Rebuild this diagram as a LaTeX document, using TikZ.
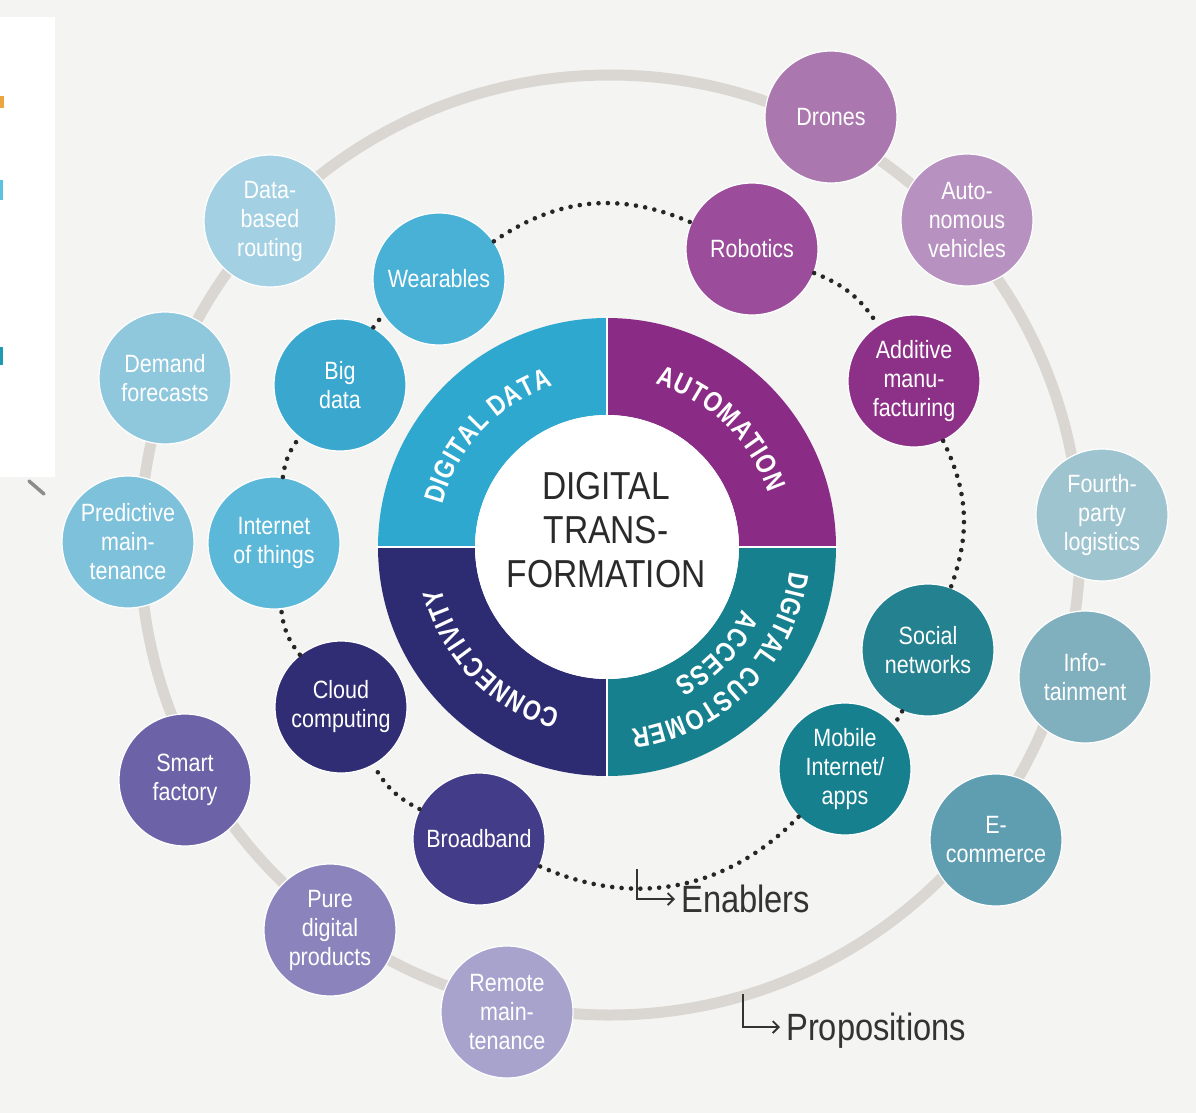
\documentclass[tikz,border=0pt]{standalone}
\usepackage{fontspec}
\setmainfont[FakeStretch=0.86]{Liberation Sans}
\newfontfamily\ringfont[FakeStretch=0.82]{Liberation Sans}
\usetikzlibrary{arrows.meta}
\definecolor{bgc}{HTML}{F4F4F3}
\definecolor{ringc}{HTML}{DAD6D2}
\definecolor{dotc}{HTML}{262626}
\definecolor{labc}{HTML}{333333}
\definecolor{coretxt}{HTML}{2A2A2A}
\definecolor{cdd}{HTML}{2FA8CF}
\definecolor{cau}{HTML}{8A2B86}
\definecolor{cca}{HTML}{17808E}
\definecolor{cco}{HTML}{2D2C73}
% enablers
\definecolor{ewear}{HTML}{4AB1D6}
\definecolor{ebig}{HTML}{3AA7CF}
\definecolor{eiot}{HTML}{5BB8D8}
\definecolor{ecloud}{HTML}{302D74}
\definecolor{ebroad}{HTML}{433C89}
\definecolor{emob}{HTML}{17808F}
\definecolor{esoc}{HTML}{24818F}
\definecolor{eadd}{HTML}{8D3188}
\definecolor{erob}{HTML}{9B4D9B}
% propositions
\definecolor{pdata}{HTML}{A3D0E2}
\definecolor{pdem}{HTML}{8FC7DD}
\definecolor{ppred}{HTML}{7DC1DB}
\definecolor{psmart}{HTML}{6C62A7}
\definecolor{ppure}{HTML}{8A83BC}
\definecolor{prem}{HTML}{A7A3CD}
\definecolor{pecom}{HTML}{5F9EB1}
\definecolor{pinfo}{HTML}{80AFBE}
\definecolor{pfourth}{HTML}{9EC4D0}
\definecolor{pauto}{HTML}{B791C0}
\definecolor{pdrone}{HTML}{AA78AE}
% fragments
\definecolor{fragor}{HTML}{EBA63F}
\definecolor{fragcy}{HTML}{5BC3E0}
\definecolor{fragtl}{HTML}{1E9AB2}
\definecolor{fraggr}{HTML}{8C8C8C}
\newcommand\ringlbl{\ringfont\bfseries\fontsize{28}{28}\selectfont}
\def\rwem{22.96}% 28pt font, 0.82 stretch
\def\rwsp{0.8}% extra letter spacing
% #1 name prefix, #2 centre angle, #3 baseline radius, #4 letter/width(em)/gap(em) list
\newcommand\ringword[4]{%
  \xdef\rwtotal{0}%
  \foreach \ch/\rww/\rwg in {#4}{%
    \pgfmathsetmacro\rwtmp{\rwtotal+(\rww+\rwg)*\rwem+\rwsp}%
    \xdef\rwtotal{\rwtmp}%
  }%
  \pgfmathsetmacro\rwstart{#2+deg(\rwtotal/(2*#3))}%
  \xdef\rwang{\rwstart}%
  \foreach \ch/\rww/\rwg [count=\k] in {#4}{%
    \pgfmathsetmacro\rwmid{\rwang-deg((\rww*\rwem+\rwsp)/(2*#3))}%
    \pgfmathsetmacro\rwnext{\rwang-deg(((\rww+\rwg)*\rwem+\rwsp)/#3)}%
    \node[rotate=\rwmid-90, anchor=base, inner sep=0pt, text=white, font=\ringlbl]
      (#1\k) at ([shift={(\rwmid:#3)}]cc) {\ch};
    \xdef\rwang{\rwnext}%
  }%
}
\begin{document}
\begin{tikzpicture}[x=1pt,y=1pt,
  bub/.style={circle, minimum size=132pt, inner sep=0pt, draw=white, line width=1.2pt,
    text=white, align=center, font=\fontsize{25}{29}\selectfont},
  dotline/.style={draw=dotc, line width=4.6pt, line cap=round, dash pattern=on 0pt off 9.4pt},
  labtext/.style={font=\fontsize{38}{40}\selectfont, text=labc, inner ysep=0pt, inner xsep=6pt},
  arr/.style={draw=labc, line width=1.8pt, -{Straight Barb[length=6pt,width=12pt]}},
  coretext/.style={align=center, text=coretxt, inner sep=0pt, font=\fontsize{39}{44}\selectfont}
]
\useasboundingbox (0,0) rectangle (1196,-1113);
\fill[bgc] (0,0) rectangle (1196,-1113);
% cropped fragment at left
\fill[white] (0,-17) rectangle (55,-477);
\fill[fragor] (0,-96) rectangle (4,-108);
\fill[fragcy] (0,-180) rectangle (2.5,-200);
\fill[fragtl] (0,-347) rectangle (3,-365);
\draw[fraggr, line width=3.5pt, line cap=round] (29,-481) -- (44,-494);

% outer propositions ring
\draw[ringc, line width=11pt] (610,-545) circle[radius=470];

% core ring
\coordinate (cc) at (607,-547);
\fill[cdd] ([shift={(90:229)}]cc) arc[start angle=90,end angle=180,radius=229]
  -- ([shift={(180:132)}]cc) arc[start angle=180,end angle=90,radius=132] -- cycle;
\fill[cau] ([shift={(0:229)}]cc) arc[start angle=0,end angle=90,radius=229]
  -- ([shift={(90:132)}]cc) arc[start angle=90,end angle=0,radius=132] -- cycle;
\fill[cco] ([shift={(180:229)}]cc) arc[start angle=180,end angle=270,radius=229]
  -- ([shift={(270:132)}]cc) arc[start angle=270,end angle=180,radius=132] -- cycle;
\fill[cca] ([shift={(270:229)}]cc) arc[start angle=270,end angle=360,radius=229]
  -- ([shift={(0:132)}]cc) arc[start angle=0,end angle=-90,radius=132] -- cycle;
\foreach \a in {0,90,180,270}
  \draw[white, line width=2.5pt] ([shift={(\a:130)}]cc) -- ([shift={(\a:231)}]cc);
\fill[white] (cc) circle[radius=132];

% ring labels (letter by letter, clockwise, tops outward)
\ringword{dd}{137}{170}{D/.722/0,I/.278/0,G/.778/0,I/.278/0,T/.611/0,A/.722/0,L/.611/.278,D/.722/0,A/.722/0,T/.611/0,A/.722/0}
\ringword{au}{46}{170}{A/.722/0,U/.722/0,T/.611/0,O/.778/0,M/.833/0,A/.722/0,T/.611/0,I/.278/0,O/.778/0,N/.722/0}
\ringword{co}{224}{170}{C/.722/0,O/.778/0,N/.722/0,N/.722/0,E/.667/0,C/.722/0,T/.611/0,I/.278/0,V/.667/0,I/.278/0,T/.611/0,Y/.667/0}
\ringword{cu}{-45}{184}{D/.722/0,I/.278/0,G/.778/0,I/.278/0,T/.611/0,A/.722/0,L/.611/.278,C/.722/0,U/.722/0,S/.667/0,T/.611/0,O/.778/0,M/.833/0,E/.667/0,R/.722/0}
\ringword{ac}{-44}{149}{A/.722/0,C/.722/0,C/.722/0,E/.667/0,S/.667/0,S/.667/0}

\node[coretext] (core) at (606,-530) {DIGITAL\\TRANS-\\FORMATION};

% propositions
\node[bub, fill=pdata]   (data)   at (270,-221)  {Data-\\based\\routing};
\node[bub, fill=pdem]    (demand) at (165,-378)  {Demand\\forecasts};
\node[bub, fill=ppred]   (pred)   at (128,-542)  {Predictive\\main-\\tenance};
\node[bub, fill=psmart]  (smart)  at (185,-780)  {Smart\\factory};
\node[bub, fill=ppure]   (pure)   at (330,-930)  {Pure\\digital\\products};
\node[bub, fill=prem]    (remote) at (507,-1012) {Remote\\main-\\tenance};
\node[bub, fill=pecom]   (ecomm)  at (996,-840)  {E-\\commerce};
\node[bub, fill=pinfo]   (info)   at (1085,-677) {Info-\\tainment};
\node[bub, fill=pfourth] (fourth) at (1102,-515) {Fourth-\\party\\logistics};
\node[bub, fill=pauto]   (auto)   at (967,-220)  {Auto-\\nomous\\vehicles};
\node[bub, fill=pdrone]  (drones) at (831,-117)  {Drones};

% enablers
\node[bub, fill=ewear]  (wear)   at (439,-279) {Wearables};
\node[bub, fill=ebig]   (big)    at (340,-385) {Big\\data};
\node[bub, fill=eiot]   (iot)    at (274,-543) {Internet\\of things};
\node[bub, fill=ecloud] (cloud)  at (341,-707) {Cloud\\computing};
\node[bub, fill=ebroad] (broad)  at (479,-839) {Broadband};
\node[bub, fill=emob]   (mobile) at (845,-769) {Mobile\\Internet/\\apps};
\node[bub, fill=esoc]   (social) at (928,-650) {Social\\networks};
\node[bub, fill=eadd]   (add)    at (914,-381) {Additive\\manu-\\facturing};
\node[bub, fill=erob]   (robot)  at (752,-249) {Robotics};

\draw[dotline] (wear) to[bend left=29] (robot);
\draw[dotline] (robot) to[bend left=18] (add);
\draw[dotline] (add) to[bend left=23] (social);
\draw[dotline] (social) to[bend left=12] (mobile);
\draw[dotline] (mobile) to[bend left=35] (broad);
\draw[dotline] (broad) to[bend left=17] (cloud);
\draw[dotline] (cloud) to[bend left=16] (iot);
\draw[dotline] (iot) to[bend left=15] (big);
\draw[dotline] (big) to[bend left=13] (wear);

% legend labels
\coordinate (enb) at (637,-869);
\node[labtext, anchor=west] (enl) at (675,-899) {Enablers};
\draw[arr] (enb) |- (enl);
\coordinate (prb) at (743,-994);
\node[labtext, anchor=west] (prl) at (780,-1031) {Propositions};
\draw[arr] (prb) |- ([yshift=4pt]prl.west);
\end{tikzpicture}
\end{document}
